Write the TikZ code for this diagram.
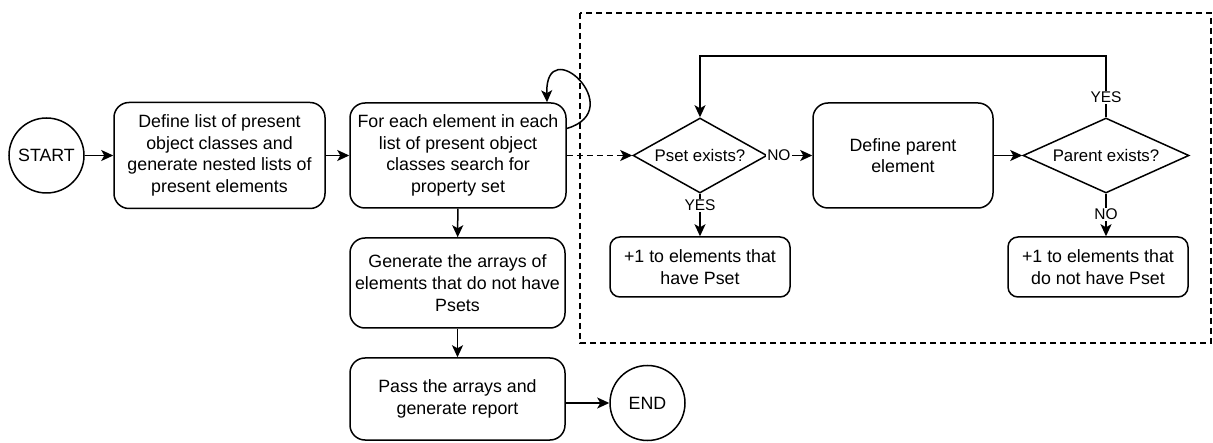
\documentclass[tikz,border=0pt]{standalone}
\usepackage{fontspec}
\setmainfont{Liberation Sans}
\usetikzlibrary{shapes.geometric,arrows.meta,calc}
\begin{document}
\begin{tikzpicture}[x=1pt,y=-1pt,
  txt/.style={font=\fontsize{17.8}{21.7}\selectfont},
  box/.style={draw, line width=1.5pt, rounded corners=15pt, align=center, inner sep=0pt, txt},
  sbox/.style={box, rounded corners=10pt},
  term/.style={draw, circle, line width=1.5pt, minimum size=75pt, inner sep=0pt, txt},
  dia/.style={draw, diamond, line width=1.5pt, inner sep=0pt},
  arr/.style={line width=1.5pt, -{Stealth[length=12pt,width=11pt,inset=3pt]}},
  lbl/.style={fill=white, inner sep=1pt, font=\fontsize{15.5}{18}\selectfont},
  dtext/.style={font=\fontsize{16.8}{20}\selectfont}
]
\useasboundingbox (0,0) rectangle (1213,443);

% dashed frame
\draw[line width=1.3pt, dash pattern=on 6pt off 4pt] (580,13) rectangle (1211,343);

\node[term] (start) at (46.5,155.5) {START};
\node[box, minimum width=211pt, minimum height=106pt] (b1) at (219.5,155.5)
  {Define list of present\\object classes and\\generate nested lists of\\present elements};
\node[box, minimum width=216pt, minimum height=105pt] (b2) at (458,155.5)
  {For each element in each\\list of present object\\classes search for\\property set};
\node[box, minimum width=215pt, minimum height=90pt] (b6) at (457.5,283)
  {Generate the arrays of\\elements that do not have\\Psets};
\node[box, minimum width=215pt, minimum height=82pt] (b7) at (457.5,399)
  {Pass the arrays and\\generate report};
\node[term] (end) at (647.5,403) {END};

\node[dia, minimum width=134pt, minimum height=75pt] (d1) at (700,155.5) {};
\node[dtext] (d1t) at (d1.center) {Pset exists?};
\node[box, minimum width=180pt, minimum height=105pt] (b3) at (903,155.5)
  {Define parent\\element};
\node[dia, minimum width=166pt, minimum height=75pt] (d2) at (1106,155.5) {};
\node[dtext] (d2t) at (d2.center) {Parent exists?};
\node[sbox, minimum width=180pt, minimum height=60pt] (b4) at (700,267)
  {+1 to elements that\\have Pset};
\node[sbox, minimum width=180pt, minimum height=60pt] (b5) at (1098,267)
  {+1 to elements that\\do not have Pset};

\coordinate (ls) at ([yshift=27pt]b2.east);
\coordinate (le) at ([xshift=89pt]b2.north);

\draw[arr] (start) -- (b1);
\draw[arr] (b1) -- (b2);
\draw[arr] (ls) .. controls (630,110) and (545,30) .. (le);
\draw[arr] (b2) -- (b6);
\draw[arr] (b6) -- (b7);
\draw[arr] (b7.east |- end.west) -- (end.west);
\draw[arr, dash pattern=on 6pt off 4pt] (b2.east) -- (d1.west);
\draw[arr] (d1.east) -- node[lbl, pos=0.25] {NO} (b3.west);
\draw[arr] (b3.east) -- (d2.west);
\draw[arr] (d1.south) -- node[lbl, pos=0.27] {YES} (b4.north);
\draw[arr] (d2.south) -- node[lbl, pos=0.48] {NO} (d2.south |- b5.north);
\draw[arr] (d2.north) -- node[lbl, pos=0.33] {YES} ++(0,-61) -| (d1.north);
\end{tikzpicture}
\end{document}
